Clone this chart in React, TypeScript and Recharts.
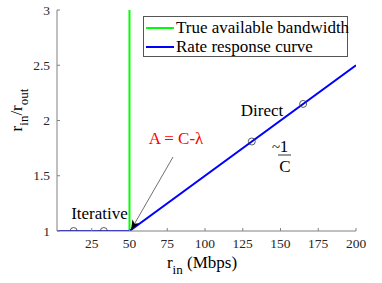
import React from 'react';
import { ComposedChart, Line, Scatter, XAxis, YAxis } from 'recharts';

const bandwidthX = [50, 50];
const bandwidthY = [1, 3];
const responseX = [2, 50, 200];
const responseY = [1, 1, 2.5];
const markerX = [13, 33, 131, 165];
const markerY = [1, 1, 1.81, 2.15];
const xTicks = [25, 50, 75, 100, 125, 150, 175, 200];
const yTicks = [1, 1.5, 2, 2.5, 3];
const seriesNames = ['True available bandwidth', 'Rate response curve'];
const seriesColors = ['#00ff00', '#0000ff'];

const bandwidthData = bandwidthX.map((x, i) => ({ x, y: bandwidthY[i] }));
const responseData = responseX.map((x, i) => ({ x, y: responseY[i] }));
const markerData = markerX.map((x, i) => ({ x, y: markerY[i] }));

const FONT = '"Liberation Serif", "Times New Roman", serif';
const AXIS = '#808080';
const TEXT = '#262626';
const TL = 3;

const BottomTick = (p: any) => (
  <g>
    <line x1={p.x} x2={p.x} y1={p.y} y2={p.y - TL} stroke={AXIS} strokeWidth={1} />
    <text x={p.x} y={p.y + 17} textAnchor="middle" fontFamily={FONT} fontSize={13.5} fill={TEXT}>
      {p.payload.value}
    </text>
  </g>
);
const TopTick = (p: any) => (
  <line x1={p.x} x2={p.x} y1={p.y} y2={p.y + TL} stroke={AXIS} strokeWidth={1} />
);
const LeftTick = (p: any) => (
  <g>
    <line x1={p.x} x2={p.x + TL} y1={p.y} y2={p.y} stroke={AXIS} strokeWidth={1} />
    <text x={p.x - 7} y={p.y + 4.5} textAnchor="end" fontFamily={FONT} fontSize={13.5} fill={TEXT}>
      {p.payload.value}
    </text>
  </g>
);
const RightTick = (p: any) => (
  <line x1={p.x} x2={p.x - TL} y1={p.y} y2={p.y} stroke={AXIS} strokeWidth={1} />
);

const Marker = (p: any) => (
  <circle cx={p.cx} cy={p.cy} r={3.5} fill="none" stroke="#333" strokeWidth={0.8} />
);

const LegendBox = () => (
  <div
    style={{
      position: 'absolute',
      left: 143,
      top: 16,
      width: 203,
      height: 39,
      border: '1px solid #555',
      background: '#fff',
      fontFamily: FONT,
      fontSize: 17,
      color: '#000',
    }}
  >
    {seriesNames.map((n, i) => (
      <div
        key={n}
        style={{
          position: 'absolute',
          left: 2,
          top: 1 + i * 19,
          height: 19,
          display: 'flex',
          alignItems: 'center',
          whiteSpace: 'nowrap',
        }}
      >
        <div style={{ width: 28, height: 2, background: seriesColors[i], marginRight: 2 }} />
        <span>{n}</span>
      </div>
    ))}
  </div>
);

export default function App() {
  return (
    <div style={{ position: 'absolute', left: 0, top: 0, width: 382, height: 283, background: '#fff' }}>
      <ComposedChart width={382} height={283} margin={{ top: 10, right: 26, left: 0, bottom: 0 }}>
        <XAxis
          xAxisId="b"
          dataKey="x"
          type="number"
          domain={[2, 200]}
          ticks={xTicks}
          allowDataOverflow
          height={52}
          tickSize={0}
          tickMargin={0}
          tickLine={false}
          axisLine={{ stroke: AXIS }}
          tick={BottomTick}
          interval={0}
        />
        <XAxis
          xAxisId="t"
          orientation="top"
          dataKey="x"
          type="number"
          domain={[2, 200]}
          ticks={xTicks}
          allowDataOverflow
          height={0}
          tickSize={0}
          tickMargin={0}
          tickLine={false}
          axisLine={{ stroke: AXIS }}
          tick={TopTick}
          interval={0}
        />
        <YAxis
          yAxisId="l"
          type="number"
          domain={[1, 3]}
          ticks={yTicks}
          allowDataOverflow
          width={57}
          tickSize={0}
          tickMargin={0}
          tickLine={false}
          axisLine={{ stroke: AXIS }}
          tick={LeftTick}
          interval={0}
        />
        <YAxis
          yAxisId="r"
          orientation="right"
          type="number"
          domain={[1, 3]}
          ticks={yTicks}
          allowDataOverflow
          width={0}
          tickSize={0}
          tickMargin={0}
          tickLine={false}
          axisLine={{ stroke: AXIS }}
          tick={RightTick}
          interval={0}
        />
        <Line
          xAxisId="b"
          yAxisId="l"
          data={bandwidthData}
          dataKey="y"
          stroke="#00ff00"
          strokeWidth={2}
          dot={false}
          isAnimationActive={false}
        />
        <Line
          xAxisId="b"
          yAxisId="l"
          data={responseData}
          dataKey="y"
          stroke="#0000ff"
          strokeWidth={2}
          dot={false}
          isAnimationActive={false}
        />
        <Scatter
          xAxisId="b"
          yAxisId="l"
          data={markerData}
          dataKey="y"
          shape={Marker}
          isAnimationActive={false}
        />
      </ComposedChart>
      <LegendBox />
      <svg
        width={382}
        height={283}
        style={{ position: 'absolute', left: 0, top: 0, pointerEvents: 'none' }}
        fontFamily={FONT}
      >
        <defs>
          <marker id="ah" markerWidth="10" markerHeight="8" refX="9" refY="4" orient="auto" markerUnits="userSpaceOnUse">
            <path d="M0,0 L10,4 L0,8 L3,4 Z" fill="#000" />
          </marker>
        </defs>
        <line x1={173} y1={157} x2={131.5} y2={229} stroke="#333" strokeWidth={0.7} markerEnd="url(#ah)" />
        <text x={176} y={144} textAnchor="middle" fontSize={17} fill="#ff0000">A = C-λ</text>
        <text x={99.5} y={219} textAnchor="middle" fontSize={17} fill="#000">Iterative</text>
        <text x={262} y={116} textAnchor="middle" fontSize={17} fill="#000">Direct</text>
        <text x={272} y={152} fontSize={15} fill="#000">~</text>
        <text x={284} y={152} textAnchor="middle" fontSize={17} fill="#000">1</text>
        <line x1={278} x2={291} y1={155} y2={155} stroke="#000" strokeWidth={0.8} />
        <text x={285} y={172} textAnchor="middle" fontSize={17} fill="#000">C</text>
        <text x={202} y={268} textAnchor="middle" fontSize={17} fill="#000">
          r<tspan dy={6} fontSize={13}>in</tspan>
          <tspan dy={-6}> (Mbps)</tspan>
        </text>
        <text transform="translate(22,110) rotate(-90)" textAnchor="middle" fontSize={17} fill="#000">
          r<tspan dy={6} fontSize={13}>in</tspan>
          <tspan dy={-6}>/r</tspan>
          <tspan dy={6} fontSize={13}>out</tspan>
        </text>
      </svg>
    </div>
  );
}
